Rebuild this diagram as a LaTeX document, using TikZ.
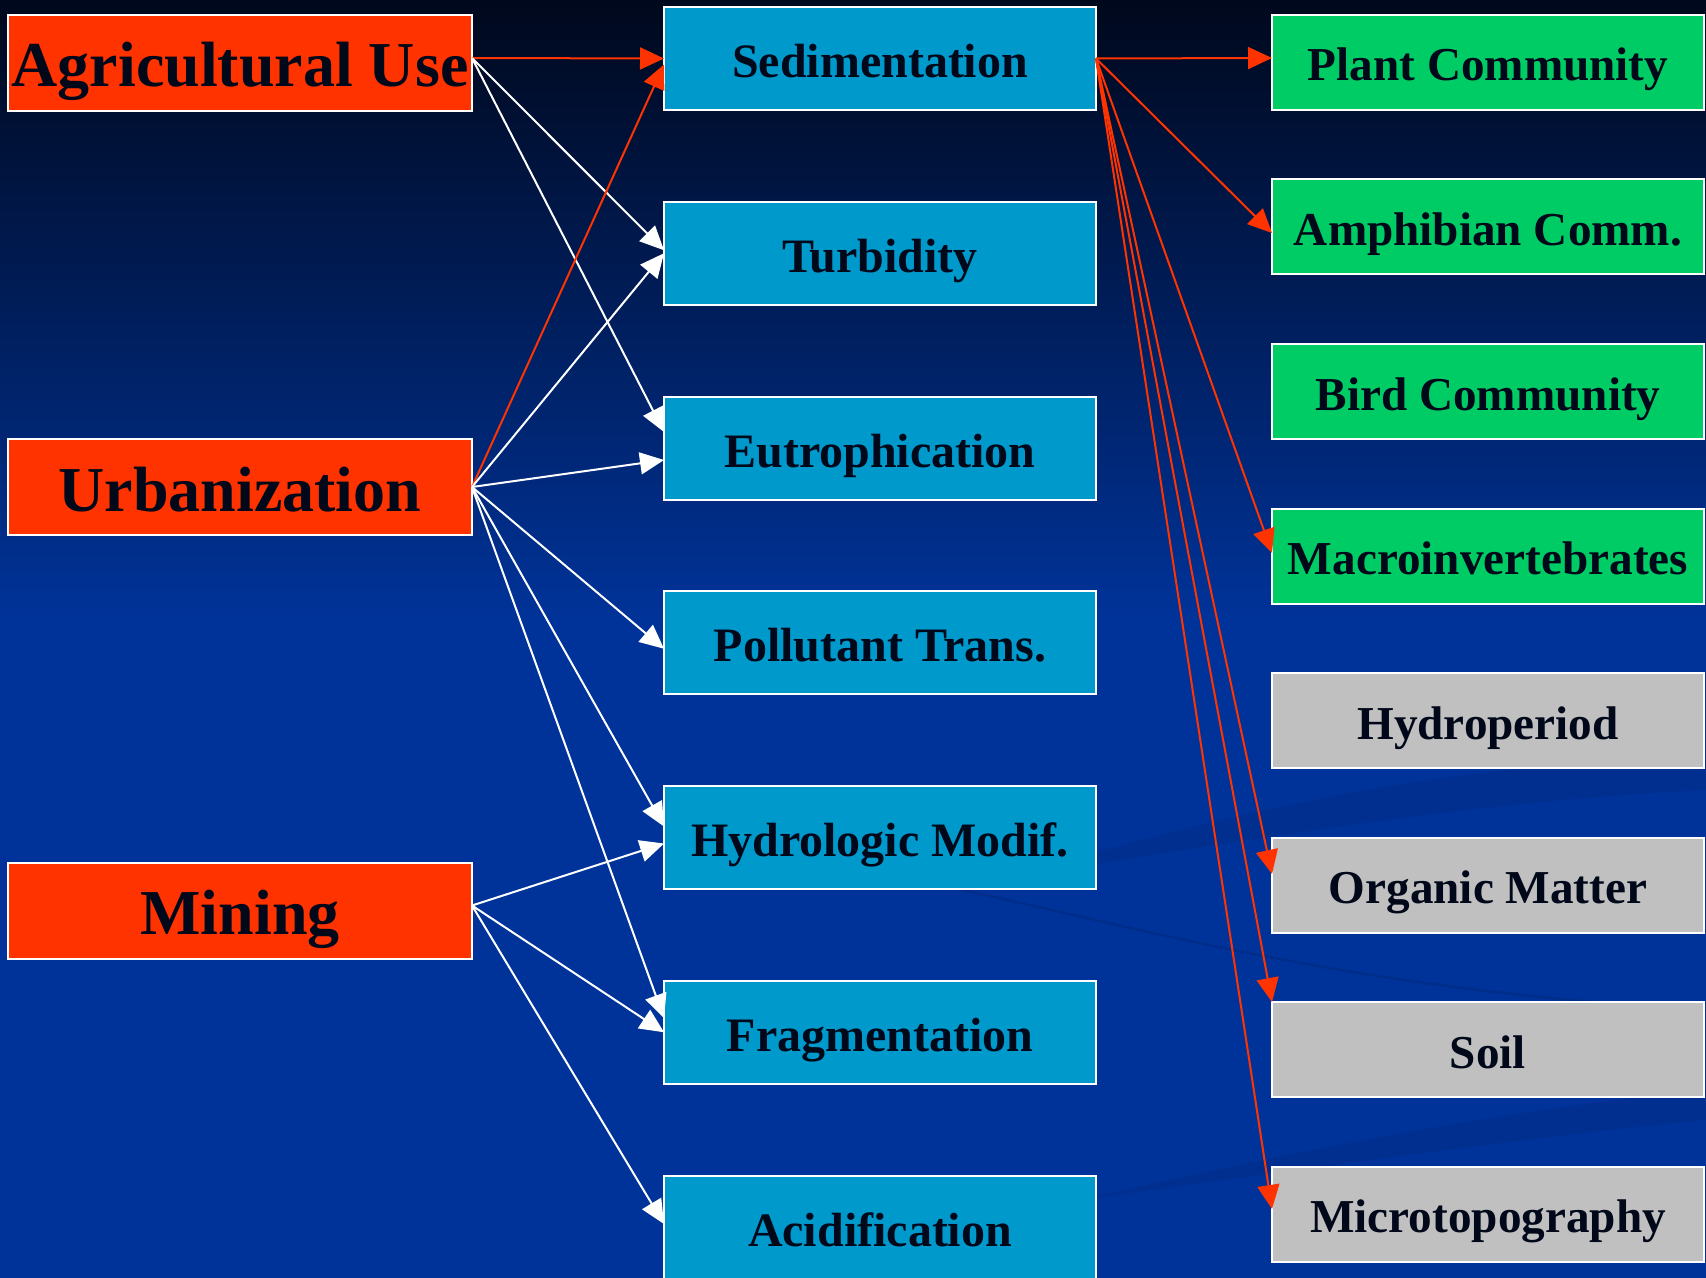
\documentclass[tikz,border=0pt]{standalone}
\usepackage{fontspec}
\setmainfont{Liberation Serif}
\usetikzlibrary{arrows.meta,calc}
\definecolor{bgtop}{RGB}{0,8,28}
\definecolor{bgbot}{RGB}{0,51,153}
\definecolor{swoosh}{RGB}{0,40,128}
\definecolor{redbox}{RGB}{255,51,0}
\definecolor{midbox}{RGB}{0,153,204}
\definecolor{greenbox}{RGB}{0,204,102}
\definecolor{greybox}{RGB}{192,192,192}
\definecolor{txt}{RGB}{0,8,26}
\definecolor{redline}{RGB}{255,51,0}
\begin{document}
\begin{tikzpicture}[x=0.5pt,y=-0.5pt,
  box/.style={draw=white, line width=1pt, inner sep=0pt, outer sep=0pt, text=txt},
  srcbox/.style={box, fill=redbox, minimum width=232pt, minimum height=48pt,
    font=\fontsize{32}{36}\selectfont\bfseries, text height=24pt, text depth=0pt},
  midnode/.style={box, fill=midbox, minimum width=216pt, minimum height=51.5pt,
    font=\fontsize{24}{28}\selectfont\bfseries, text height=19pt, text depth=0pt},
  bionode/.style={box, fill=greenbox, minimum width=216pt, minimum height=47.5pt,
    font=\fontsize{23.6}{28}\selectfont\bfseries, text height=18.5pt, text depth=0pt},
  physnode/.style={bionode, fill=greybox},
  wa/.style={draw=white, line width=1pt, -{Triangle[length=12pt,width=11pt]}},
  ra/.style={draw=redline, line width=1pt, -{Triangle[length=12pt,width=11pt]}}
]
\useasboundingbox (0,0) rectangle (1706,1278);
% background
\fill[bgbot] (0,0) rectangle (1706,1278);
\shade[top color=bgtop, bottom color=bgbot] (0,0) rectangle (1706,620);
\fill[swoosh, opacity=0.35] (1000,880) .. controls (1300,790) and (1500,760) .. (1706,760)
  -- (1706,790) .. controls (1500,800) and (1300,830) .. (1000,880) -- cycle;
\draw[swoosh, opacity=0.6, line width=1.2pt] (940,885) .. controls (1150,930) and (1350,990) .. (1706,1010);
\fill[swoosh, opacity=0.35] (1080,1200) .. controls (1300,1150) and (1500,1110) .. (1706,1090)
  -- (1706,1120) .. controls (1500,1140) and (1300,1170) .. (1080,1200) -- cycle;

% source nodes
\node[srcbox] (agri) at (240,63) {Agricultural Use};
\node[srcbox] (urban) at (240,487) {Urbanization};
\node[srcbox] (mining) at (240,910.5) {Mining};

% middle nodes
\node[midnode] (sed) at (880,58.5) {Sedimentation};
\node[midnode] (turb) at (880,253.25) {Turbidity};
\node[midnode] (eut) at (880,448) {Eutrophication};
\node[midnode] (poll) at (880,642.75) {Pollutant Trans.};
\node[midnode] (hyd) at (880,837.5) {Hydrologic Modif.};
\node[midnode] (frag) at (880,1032.25) {Fragmentation};
\node[midnode] (acid) at (880,1227) {Acidification};

% right nodes
\node[bionode] (plant) at (1488,62.5) {Plant Community};
\node[bionode] (amph) at (1488,227) {Amphibian Comm.};
\node[bionode] (bird) at (1488,391.5) {Bird Community};
\node[bionode] (macro) at (1488,556) {Macroinvertebrates};
\node[physnode] (hydro) at (1488,720.5) {Hydroperiod};
\node[physnode] (org) at (1488,885) {Organic Matter};
\node[physnode] (soil) at (1488,1049.5) {Soil};
\node[physnode] (micro) at (1488,1214) {Microtopography};

% agricultural use
\draw[ra] ($(agri.east)+(0,-5)$) -- (sed.west);
\draw[wa] ($(agri.east)+(0,-5)$) -- ($(turb.west)+(0,-3)$);
\draw[wa] ($(agri.east)+(0,-5)$) -- ($(eut.west)+(0,-16)$);
% urbanization
\draw[ra] (urban.east) -- ($(sed.west)+(0,6)$);
\draw[wa] (urban.east) -- (turb.west);
\draw[wa] (urban.east) -- ($(eut.west)+(0,12)$);
\draw[wa] (urban.east) -- ($(poll.west)+(0,6)$);
\draw[wa] (urban.east) -- ($(hyd.west)+(0,-11)$);
\draw[wa] (urban.east) -- ($(frag.west)+(0,-14)$);
% mining
\draw[wa] ($(mining.east)+(0,-5)$) -- ($(hyd.west)+(0,6)$);
\draw[wa] ($(mining.east)+(0,-5)$) -- (frag.west);
\draw[wa] ($(mining.east)+(0,-5)$) -- ($(acid.west)+(0,-3)$);
% sedimentation effects
\draw[ra] (sed.east) -- ($(plant.west)+(0,-4.5)$);
\draw[ra] (sed.east) -- ($(amph.west)+(0,6)$);
\draw[ra] (sed.east) -- ($(macro.west)+(0,-3)$);
\draw[ra] (sed.east) -- ($(org.west)+(0,-11)$);
\draw[ra] (sed.east) -- (soil.north west);
\draw[ra] (sed.east) -- ($(micro.west)+(0,-5)$);
\end{tikzpicture}
\end{document}
